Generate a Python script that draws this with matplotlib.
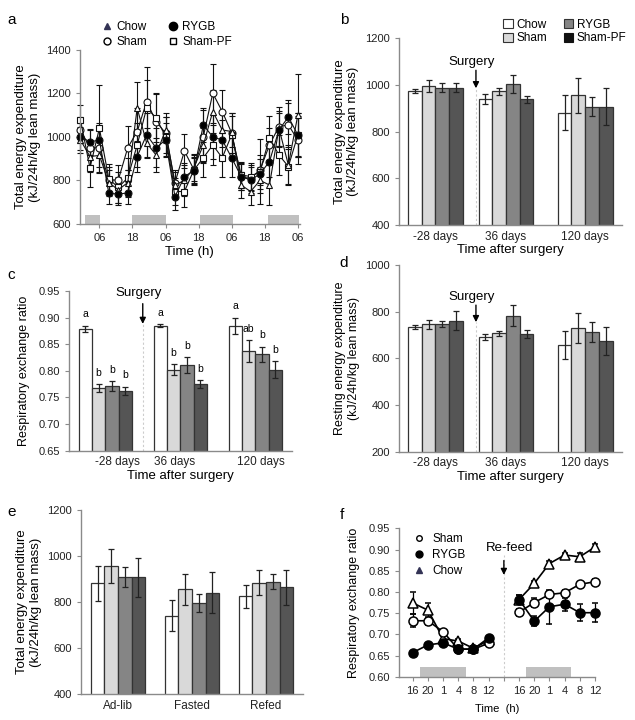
import numpy as np
import matplotlib
matplotlib.use("Agg")
import matplotlib.pyplot as plt
from matplotlib.lines import Line2D
from matplotlib.patches import Patch

plt.rcParams['font.family'] = ['Liberation Sans', 'DejaVu Sans']
plt.rcParams['font.size'] = 8

# ---- data -------------------------------------------------------------
groups = ["Chow", "Sham", "RYGB", "Sham-PF"]
bar_colors = ["#ffffff", "#d9d9d9", "#858585", "#555555"]

# panel a: total EE over time (4 series)
a_ticklabels = ["06", "18", "06", "18", "06", "18", "06"]
chow_a = [986, 910, 915, 790, 757, 790, 1133, 972, 917, 1032, 779, 800,
          858, 963, 1117, 1032, 1025, 779, 749, 800, 779, 1040, 871, 1101]
sham_a = [1032, 950, 950, 802, 802, 950, 1025, 1163, 1071, 1018, 790, 935,
          850, 1002, 1201, 1117, 1018, 815, 810, 848, 963, 1048, 1055, 986]
rygb_a = [1002, 977, 986, 740, 738, 742, 910, 1010, 950, 986, 725, 818,
          845, 1055, 1000, 986, 904, 818, 802, 830, 887, 1032, 1092, 1009]
shampf_a = [1078, 858, 1040, 807, 768, 812, 963, 1133, 1088, 1002, 749, 749,
            848, 904, 963, 904, 1010, 825, 818, 841, 996, 917, 864, 1009]
chow_a_err = [60, 70, 80, 60, 60, 60, 120, 70, 80, 60, 60, 70,
              60, 80, 100, 80, 70, 60, 60, 60, 90, 80, 90, 190]
sham_a_err = [60, 80, 90, 60, 70, 100, 110, 160, 130, 90, 60, 80,
              70, 120, 135, 100, 90, 60, 60, 70, 80, 90, 100, 110]
rygb_a_err = [60, 60, 80, 50, 50, 50, 70, 100, 90, 80, 60, 60,
              60, 80, 100, 90, 90, 60, 60, 70, 70, 80, 80, 100]
shampf_a_err = [70, 90, 200, 70, 70, 90, 100, 130, 110, 90, 60, 70,
                60, 90, 90, 90, 100, 60, 60, 150, 100, 90, 80, 100]

# panels b-d: time after surgery
periods = ["-28 days", "36 days", "120 days"]
tee_b = [[973, 939, 880], [995, 973, 955], [988, 1003, 906], [988, 937, 906]]
tee_b_err = [[10, 20, 75], [25, 15, 75], [18, 40, 40], [20, 15, 80]]
rer_c = [[0.879, 0.885, 0.885], [0.768, 0.802, 0.837],
         [0.771, 0.810, 0.831], [0.762, 0.775, 0.802]]
rer_c_err = [[0.006, 0.002, 0.015], [0.007, 0.010, 0.020],
             [0.009, 0.015, 0.014], [0.008, 0.007, 0.016]]
rer_c_letters = [["a", "a", "a"], ["b", "b", "ab"], ["b", "b", "b"], ["b", "b", "b"]]
ree_d = [[733, 692, 657], [745, 707, 730], [748, 782, 712], [762, 704, 676]]
ree_d_err = [[8, 12, 60], [20, 10, 65], [12, 45, 42], [40, 17, 60]]

# panel e: feeding state
states = ["Ad-lib", "Fasted", "Refed"]
tee_e = [[881, 740, 826], [957, 855, 884], [908, 795, 888], [908, 841, 864]]
tee_e_err = [[77, 68, 50], [75, 67, 55], [45, 40, 32], [85, 90, 75]]

# panel f: RER fasting / re-feeding
f_ticklabels = ["16", "20", "1", "4", "8", "12", "", "16", "20", "1", "4", "8", "12"]
sham_f1 = [0.732, 0.732, 0.706, 0.665, 0.665, 0.679]
sham_f2 = [0.752, 0.775, 0.794, 0.798, 0.818, 0.824]
rygb_f1 = [0.657, 0.675, 0.680, 0.665, 0.665, 0.692]
rygb_f2 = [0.782, 0.731, 0.765, 0.771, 0.751, 0.751]
chow_f1 = [0.774, 0.757, 0.690, 0.684, 0.667, 0.686]
chow_f2 = [0.782, 0.820, 0.867, 0.887, 0.883, 0.906]
sham_f1_err = [0.015, 0.010, 0.005, 0.005, 0.005, 0.005]
sham_f2_err = [0.008, 0.010, 0.008, 0.006, 0.006, 0.006]
rygb_f1_err = [0.004, 0.005, 0.005, 0.005, 0.004, 0.005]
rygb_f2_err = [0.010, 0.012, 0.040, 0.015, 0.020, 0.022]
chow_f1_err = [0.025, 0.018, 0.006, 0.005, 0.005, 0.005]
chow_f2_err = [0.010, 0.006, 0.006, 0.006, 0.010, 0.006]

# ---- style helpers ----------------------------------------------------
AX_COL = "#8a8a8a"


def style_axes(ax):
    for s in ["top", "right"]:
        ax.spines[s].set_visible(False)
    for s in ["left", "bottom"]:
        ax.spines[s].set_color(AX_COL)
        ax.spines[s].set_linewidth(1.0)
    ax.tick_params(colors="#222222", labelsize=8, length=3, width=0.8)
    ax.tick_params(axis="both", color=AX_COL)


def bar_panel(ax, pos, vals, errs, width, xlim, ylim, yticks):
    pos = np.asarray(pos, dtype=float)
    for i in range(4):
        x = pos + (i - 1.5) * width
        ax.bar(x, vals[i], width, yerr=errs[i], color=bar_colors[i],
               edgecolor="#333333", linewidth=0.9, bottom=0,
               error_kw=dict(ecolor="#222222", elinewidth=0.9, capsize=2.5, capthick=0.9))
    ax.set_xlim(*xlim)
    ax.set_ylim(*ylim)
    ax.set_yticks(yticks)
    style_axes(ax)
    ax.tick_params(axis="x", length=0, pad=4)


def surgery_mark(ax, x, y_text, y_tail, y_tip, label="Surgery"):
    y0 = ax.get_ylim()[0]
    ax.plot([x, x], [y0, y_tip], ls=(0, (2, 2)), color="#cccccc", lw=0.8, zorder=0)
    ax.annotate("", xy=(x, y_tip), xytext=(x, y_tail),
                arrowprops=dict(arrowstyle="-|>", color="black", lw=1.0,
                                mutation_scale=9, shrinkA=0, shrinkB=0))
    ax.text(x - 0.02 * (ax.get_xlim()[1] - ax.get_xlim()[0]), y_text, label,
            ha="center", va="bottom", fontsize=9.5)


fig = plt.figure(figsize=(6.35, 7.2), dpi=100)

# ---- panel a -----------------------------------------------------------
ax = fig.add_axes([0.126, 0.689, 0.346, 0.2416])
t = np.arange(len(chow_a))
for (xs, xe) in [(0.45, 2.05), (5.4, 9.1), (12.7, 16.1), (19.8, 23.1)]:
    ax.fill_between([xs, xe], 600, 640, color="#c0c0c0", lw=0, zorder=0)
series_a = [
    (sham_a, sham_a_err, "o", "white", "Sham"),
    (shampf_a, shampf_a_err, "s", "white", "Sham-PF"),
    (chow_a, chow_a_err, "^", "white", "Chow"),
    (rygb_a, rygb_a_err, "o", "black", "RYGB"),
]
for vals, errs, mk, fc, lab in series_a:
    ax.errorbar(t, vals, yerr=errs, fmt="-" + mk, color="#111111", mfc=fc, mec="#111111",
                ms=5, lw=0.8, mew=0.8, elinewidth=0.8, capsize=2, capthick=0.8, clip_on=False)
ax.set_xlim(-0.05, 23.2)
ax.set_ylim(600, 1400)
ax.set_yticks([600, 800, 1000, 1200, 1400])
ax.set_xticks([2, 5.5, 9, 12.5, 16, 19.5, 23])
ax.set_xticklabels(a_ticklabels)
style_axes(ax)
ax.set_xlabel("Time (h)", fontsize=9.5, labelpad=2)
ax.set_ylabel("Total energy expenditure\n(kJ/24h/kg lean mass)", fontsize=9.5, labelpad=4)
h_a = [Line2D([], [], ls="", marker="^", ms=4, color="#333355", mfc="#333355"),
       Line2D([], [], ls="", marker="o", ms=5, color="black", mfc="white"),
       Line2D([], [], ls="", marker="o", ms=6, color="black", mfc="black"),
       Line2D([], [], ls="", marker="s", ms=5, color="black", mfc="white")]
fig.legend(h_a, ["Chow", "Sham", "RYGB", "Sham-PF"], ncol=2, frameon=False,
           loc="upper left", bbox_to_anchor=(0.14, 0.985), fontsize=8.5,
           handletextpad=0.2, columnspacing=1.6, labelspacing=0.2, handlelength=1.2)

# ---- panel b -----------------------------------------------------------
ax = fig.add_axes([0.628, 0.6875, 0.352, 0.2597])
bar_panel(ax, [0, 1, 2.12], tee_b, tee_b_err, 0.194, (-0.518, 2.645), (400, 1200),
          [400, 600, 800, 1000, 1200])
ax.set_xticks([0, 1, 2.12])
ax.set_xticklabels(periods, fontsize=8.5)
ax.set_xlabel("Time after surgery", fontsize=9.5, labelpad=1)
ax.set_ylabel("Total energy expenditure\n(kJ/24h/kg lean mass)", fontsize=9.5, labelpad=4)
surgery_mark(ax, 0.574, 1072, 1062, 985)
h_b = [Patch(facecolor=c, edgecolor="#333333", lw=0.8) for c in bar_colors]
h_b[3] = Patch(facecolor="#111111", edgecolor="#111111", lw=0.8)
ax.legend(h_b, groups, ncol=2, frameon=False, loc="upper left",
          bbox_to_anchor=(0.42, 1.16), fontsize=8.5, handletextpad=0.3,
          columnspacing=1.4, labelspacing=0.15, handlelength=0.8, handleheight=0.8)

# ---- panel c -----------------------------------------------------------
ax = fig.add_axes([0.109, 0.374, 0.351, 0.222])
bar_panel(ax, [0, 1, 2], rer_c, rer_c_err, 0.178, (-0.48, 2.49), (0.65, 0.95),
          [0.65, 0.70, 0.75, 0.80, 0.85, 0.90, 0.95])
ax.yaxis.set_major_formatter(matplotlib.ticker.FormatStrFormatter("%.2f"))
for i in range(4):
    for j in range(3):
        x = j + (i - 1.5) * 0.178
        ax.text(x, rer_c[i][j] + rer_c_err[i][j] + 0.012, rer_c_letters[i][j],
                ha="center", va="bottom", fontsize=7.5)
ax.set_xticks([0.16, 0.93, 2.07])
ax.set_xticklabels(periods, fontsize=8.5)
ax.set_xlabel("Time after surgery", fontsize=9.5, labelpad=1)
ax.set_ylabel("Respiratory exchange ratio", fontsize=9, labelpad=6)
surgery_mark(ax, 0.5, 0.935, 0.926, 0.888)

# ---- panel d -----------------------------------------------------------
ax = fig.add_axes([0.628, 0.3726, 0.352, 0.2594])
bar_panel(ax, [0, 1, 2.12], ree_d, ree_d_err, 0.194, (-0.518, 2.645), (200, 1000),
          [200, 400, 600, 800, 1000])
ax.set_xticks([0, 1, 2.12])
ax.set_xticklabels(periods, fontsize=8.5)
ax.set_xlabel("Time after surgery", fontsize=9.5, labelpad=1)
ax.set_ylabel("Resting energy expenditure\n(kJ/24h/kg lean mass)", fontsize=9, labelpad=4)
surgery_mark(ax, 0.574, 838, 828, 755)

# ---- panel e -----------------------------------------------------------
ax = fig.add_axes([0.1276, 0.0361, 0.3494, 0.2556])
bar_panel(ax, [0, 1, 2], tee_e, tee_e_err, 0.184, (-0.5, 2.5), (400, 1200),
          [400, 600, 800, 1000, 1200])
ax.set_xticks([0, 1, 2])
ax.set_xticklabels(states, fontsize=8.5)
ax.set_ylabel("Total energy expenditure\n(kJ/24h/kg lean mass)", fontsize=9.5, labelpad=4)

# ---- panel f -----------------------------------------------------------
ax = fig.add_axes([0.628, 0.0601, 0.309, 0.2061])
t1 = np.arange(6)
t2 = np.arange(7, 13)
for (xs, xe) in [(0.46, 3.5), (7.43, 10.4)]:
    ax.fill_between([xs, xe], 0.60, 0.623, color="#c0c0c0", lw=0, zorder=0)
series_f = [
    (chow_f1, chow_f2, chow_f1_err, chow_f2_err, "^", "white"),
    (sham_f1, sham_f2, sham_f1_err, sham_f2_err, "o", "white"),
    (rygb_f1, rygb_f2, rygb_f1_err, rygb_f2_err, "o", "black"),
]
for v1, v2, e1, e2, mk, fc in series_f:
    for tt, vv, ee in [(t1, v1, e1), (t2, v2, e2)]:
        ax.errorbar(tt, vv, yerr=ee, fmt="-" + mk, color="black", mfc=fc, mec="black",
                    ms=6.5, lw=1.2, mew=1.1, elinewidth=0.9, capsize=2, capthick=0.9,
                    clip_on=False)
ax.set_xlim(-0.92, 12)
ax.set_ylim(0.60, 0.95)
ax.set_yticks([0.60, 0.65, 0.70, 0.75, 0.80, 0.85, 0.90, 0.95])
ax.yaxis.set_major_formatter(matplotlib.ticker.FormatStrFormatter("%.2f"))
ax.set_xticks(np.arange(13))
ax.set_xticklabels(f_ticklabels)
style_axes(ax)
ax.set_xlabel("Time  (h)", fontsize=8, labelpad=6)
ax.set_ylabel("Respiratory exchange ratio", fontsize=9, labelpad=6)
ax.plot([6, 6], [0.60, 0.887], ls=(0, (2, 2)), color="#cccccc", lw=0.8, zorder=0)
ax.annotate("", xy=(6, 0.84), xytext=(6, 0.874),
            arrowprops=dict(arrowstyle="-|>", color="black", lw=1.0,
                            mutation_scale=9, shrinkA=0, shrinkB=0))
ax.text(6.4, 0.89, "Re-feed", ha="center", va="bottom", fontsize=9.5)
h_f = [Line2D([], [], ls="", marker="o", ms=4, color="black", mfc="white"),
       Line2D([], [], ls="", marker="o", ms=5, color="black", mfc="black"),
       Line2D([], [], ls="", marker="^", ms=4, color="#333355", mfc="#333355")]
ax.legend(h_f, ["Sham", "RYGB", "Chow"], frameon=False, loc="upper left",
          bbox_to_anchor=(0.02, 1.04), fontsize=8.5, handletextpad=0.6,
          labelspacing=0.35, handlelength=1.0)

# ---- panel letters -----------------------------------------------------
for lab, x, y in [("a", 0.012, 0.982), ("b", 0.535, 0.982), ("c", 0.012, 0.628),
                  ("d", 0.535, 0.645), ("e", 0.012, 0.298), ("f", 0.535, 0.294)]:
    fig.text(x, y, lab, fontsize=11, ha="left", va="top")

fig.savefig("out.png", dpi=100)
